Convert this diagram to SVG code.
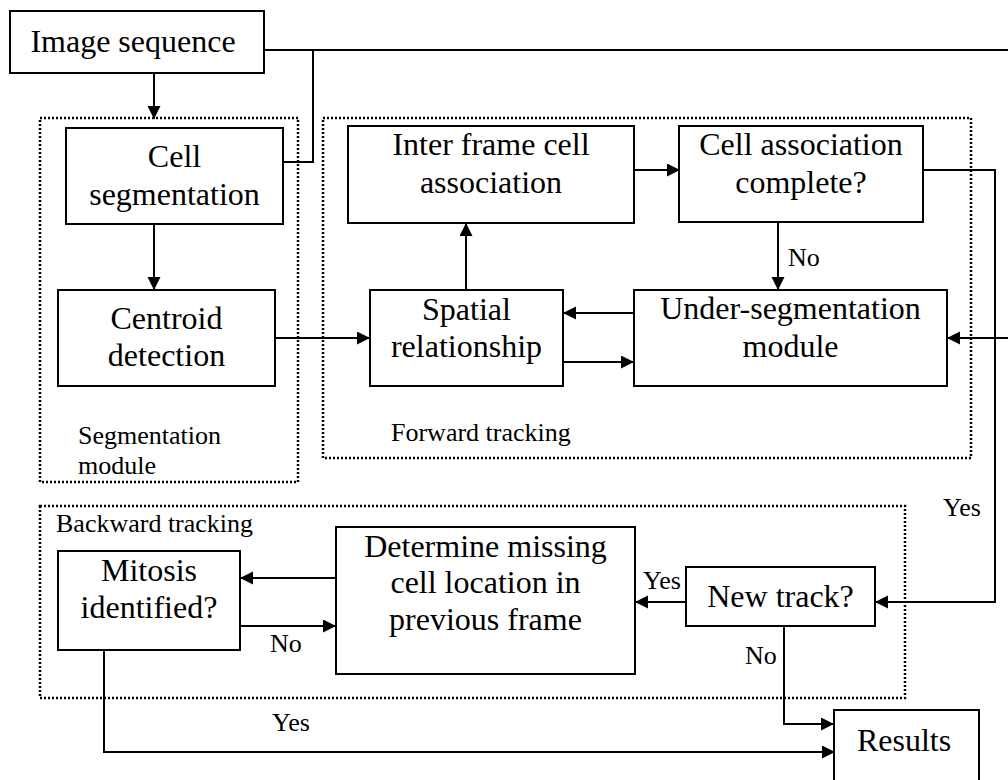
<svg xmlns="http://www.w3.org/2000/svg" width="1008" height="780" viewBox="0 0 1008 780">
<style>
.box{fill:#fff;stroke:#000;stroke-width:2}
.grp{fill:none;stroke:#000;stroke-width:2.5;stroke-dasharray:2 2}
.ln{fill:none;stroke:#000;stroke-width:2}
.t{font-family:"Liberation Serif","Times New Roman",serif;font-size:32px;fill:#000;text-anchor:middle}
.s{font-family:"Liberation Serif","Times New Roman",serif;font-size:26px;fill:#000}
</style>
<defs>
<marker id="ah" markerUnits="userSpaceOnUse" markerWidth="14" markerHeight="14" refX="13" refY="6.5" orient="auto">
<path d="M0,0 L13,6.5 L0,13 z" fill="#000"/>
</marker>
</defs>
<rect width="1008" height="780" fill="#fff"/>
<g id="segmentation-module">
<rect class="grp" x="40" y="118" width="258" height="364"/>
<text class="s" x="78" y="444">Segmentation</text>
<text class="s" x="78" y="474">module</text>
</g>
<g id="forward-tracking">
<rect class="grp" x="323" y="118" width="648" height="340"/>
<text class="s" x="391" y="441">Forward tracking</text>
</g>
<g id="backward-tracking">
<rect class="grp" x="40" y="506" width="865" height="192"/>
<text class="s" x="56" y="532">Backward tracking</text>
</g>
<g id="connectors">
<path class="ln" d="M154,73 V119" marker-end="url(#ah)"/>
<path class="ln" d="M264,50 H1008"/>
<path class="ln" d="M313,50 V162 H283"/>
<path class="ln" d="M154,224 V290" marker-end="url(#ah)"/>
<path class="ln" d="M275,338 H370" marker-end="url(#ah)"/>
<path class="ln" d="M466,290 V223" marker-end="url(#ah)"/>
<path class="ln" d="M634,170 H680" marker-end="url(#ah)"/>
<path class="ln" d="M778,222 V290" marker-end="url(#ah)"/>
<path class="ln" d="M634,313 H563" marker-end="url(#ah)"/>
<path class="ln" d="M563,362 H634" marker-end="url(#ah)"/>
<path class="ln" d="M1008,338 H947" marker-end="url(#ah)"/>
<path class="ln" d="M923,170 H995 V602 H875" marker-end="url(#ah)"/>
<path class="ln" d="M686,602 H635" marker-end="url(#ah)"/>
<path class="ln" d="M336,578 H240" marker-end="url(#ah)"/>
<path class="ln" d="M240,626 H336" marker-end="url(#ah)"/>
<path class="ln" d="M104,650 V752 H835" marker-end="url(#ah)"/>
<path class="ln" d="M784,626 V724 H834" marker-end="url(#ah)"/>
<text class="s" x="788" y="266">No</text>
<text class="s" x="943" y="516">Yes</text>
<text class="s" x="643" y="589">Yes</text>
<text class="s" x="270" y="652">No</text>
<text class="s" x="745" y="664">No</text>
<text class="s" x="272" y="731">Yes</text>
</g>
<g id="image-sequence">
<rect class="box" x="10" y="11" width="254" height="62"/>
<text class="t" x="133" y="52">Image sequence</text>
</g>
<g id="cell-segmentation">
<rect class="box" x="66" y="128" width="217" height="96"/>
<text class="t" x="174.5" y="167">Cell</text>
<text class="t" x="174.5" y="205">segmentation</text>
</g>
<g id="centroid-detection">
<rect class="box" x="58" y="290" width="217" height="96"/>
<text class="t" x="166.5" y="329">Centroid</text>
<text class="t" x="166.5" y="366">detection</text>
</g>
<g id="inter-frame">
<rect class="box" x="348" y="126" width="286" height="97"/>
<text class="t" x="491" y="155">Inter frame cell</text>
<text class="t" x="491" y="193">association</text>
</g>
<g id="cell-association-complete">
<rect class="box" x="679" y="126" width="244" height="96"/>
<text class="t" x="801" y="155">Cell association</text>
<text class="t" x="801" y="193">complete?</text>
</g>
<g id="spatial-relationship">
<rect class="box" x="370" y="290" width="193" height="96"/>
<text class="t" x="466.5" y="320">Spatial</text>
<text class="t" x="466.5" y="357">relationship</text>
</g>
<g id="under-segmentation">
<rect class="box" x="634" y="290" width="313" height="96"/>
<text class="t" x="790.5" y="319">Under-segmentation</text>
<text class="t" x="790.5" y="357">module</text>
</g>
<g id="mitosis">
<rect class="box" x="58" y="551" width="182" height="99"/>
<text class="t" x="149" y="581">Mitosis</text>
<text class="t" x="149" y="618">identified?</text>
</g>
<g id="determine-missing">
<rect class="box" x="336" y="527" width="299" height="147"/>
<text class="t" x="485.5" y="557">Determine missing</text>
<text class="t" x="485.5" y="593">cell location in</text>
<text class="t" x="485.5" y="630">previous frame</text>
</g>
<g id="new-track">
<rect class="box" x="686" y="567" width="189" height="59"/>
<text class="t" x="780.5" y="607">New track?</text>
</g>
<g id="results">
<rect class="box" x="834" y="710" width="145" height="80"/>
<text class="t" x="904" y="751">Results</text>
</g>
</svg>
